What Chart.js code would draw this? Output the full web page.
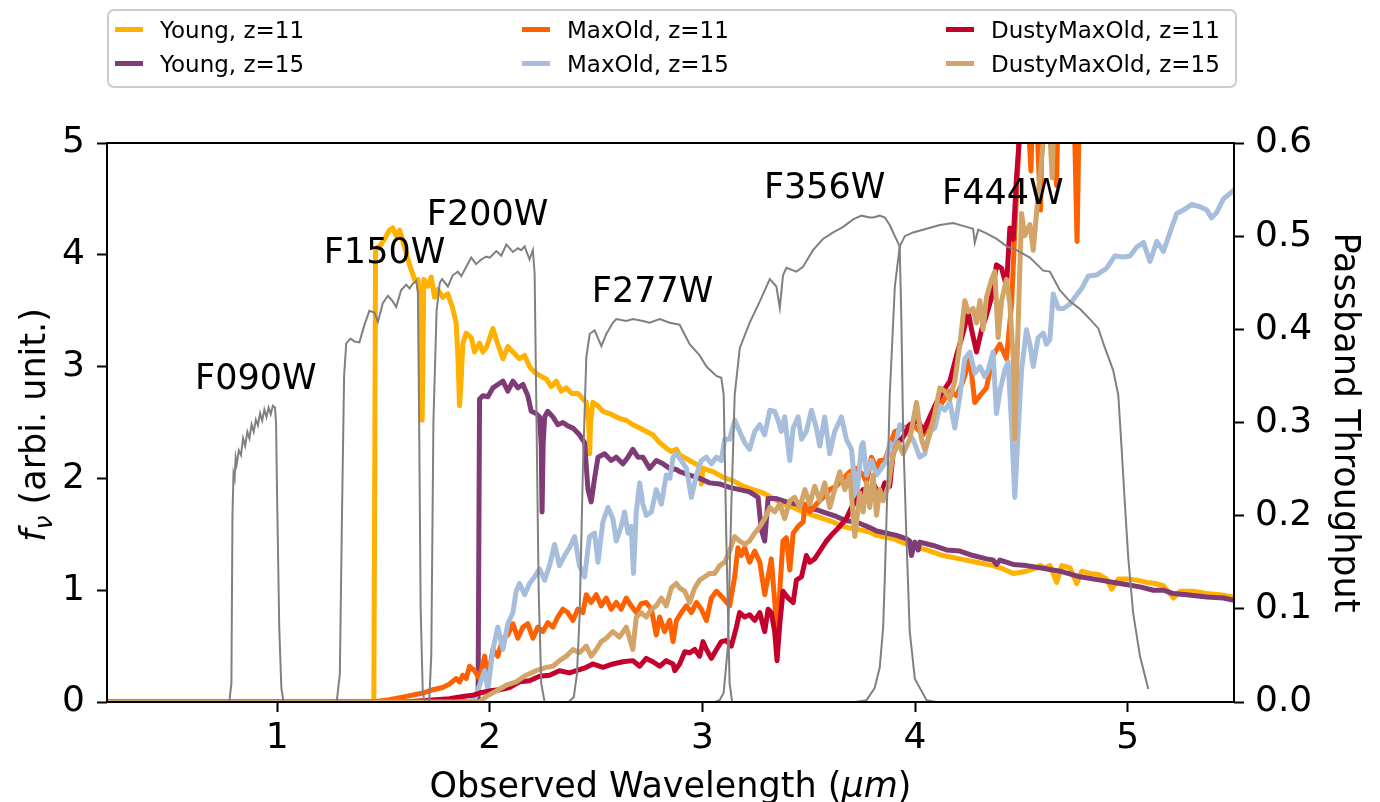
<!DOCTYPE html>
<html>
<head>
<meta charset="utf-8">
<script src="https://cdn.jsdelivr.net/npm/chart.js@4.4.1/dist/chart.umd.min.js"></script>
<style>
  html, body { margin: 0; padding: 0; background: #fff; }
  #sed { display: block; }
</style>
</head>
<body>
<canvas id="sed" width="1380" height="802"></canvas>
<script>
// ---- data: [wavelength (um), f_nu] ----
const youngZ11 = [[0.2,0],[1.455,0],[1.463,4.04],[1.473,4.07],[1.481,4.07],[1.505,4.14],[1.528,4.22],[1.544,4.24],[1.56,4.17],[1.576,4.22],[1.599,4.07],[1.623,3.91],[1.646,3.78],[1.662,3.78],[1.673,3.6],[1.682,2.52],[1.69,3.78],[1.709,3.72],[1.725,3.8],[1.74,3.62],[1.756,3.69],[1.779,3.62],[1.803,3.65],[1.826,3.52],[1.842,3.39],[1.85,3.1],[1.858,2.65],[1.866,2.9],[1.873,3.2],[1.889,3.3],[1.913,3.26],[1.928,3.13],[1.952,3.21],[1.968,3.13],[1.984,3.17],[2.015,3.34],[2.038,3.2],[2.062,3.07],[2.085,3.18],[2.109,3.13],[2.14,3.07],[2.164,3.1],[2.187,3.0],[2.211,2.95],[2.234,2.92],[2.266,2.89],[2.289,2.82],[2.313,2.87],[2.336,2.78],[2.36,2.81],[2.384,2.76],[2.415,2.76],[2.438,2.71],[2.454,2.68],[2.465,2.5],[2.47,2.22],[2.474,2.5],[2.485,2.68],[2.509,2.65],[2.532,2.6],[2.564,2.58],[2.595,2.55],[2.619,2.53],[2.642,2.52],[2.673,2.48],[2.705,2.45],[2.736,2.42],[2.767,2.39],[2.799,2.32],[2.831,2.27],[2.854,2.24],[2.878,2.26],[2.893,2.21],[2.94,2.16],[2.987,2.11],[2.995,1.95],[3.003,2.09],[3.05,2.06],[3.097,2.01],[3.144,1.98],[3.191,1.93],[3.238,1.9],[3.285,1.87],[3.333,1.82],[3.38,1.77],[3.427,1.74],[3.474,1.7],[3.521,1.67],[3.568,1.64],[3.615,1.61],[3.662,1.57],[3.709,1.55],[3.74,1.54],[3.787,1.52],[3.819,1.49],[3.897,1.46],[3.975,1.4],[4.054,1.36],[4.132,1.31],[4.211,1.28],[4.289,1.25],[4.367,1.22],[4.414,1.19],[4.462,1.15],[4.524,1.17],[4.571,1.2],[4.588,1.22],[4.611,1.2],[4.635,1.22],[4.666,1.07],[4.69,1.22],[4.729,1.2],[4.76,1.06],[4.784,1.17],[4.823,1.15],[4.862,1.14],[4.901,1.1],[4.925,1.01],[4.956,1.1],[4.996,1.1],[5.043,1.09],[5.09,1.07],[5.129,1.06],[5.168,1.04],[5.215,0.93],[5.246,0.99],[5.309,0.99],[5.372,0.97],[5.434,0.96],[5.5,0.94]];

const youngZ15 = [[0.2,0],[1.945,0],[1.952,2.71],[1.968,2.74],[1.991,2.73],[2.015,2.81],[2.038,2.84],[2.062,2.87],[2.085,2.78],[2.109,2.87],[2.132,2.81],[2.156,2.84],[2.179,2.74],[2.195,2.6],[2.218,2.58],[2.234,2.55],[2.242,2.3],[2.246,1.7],[2.251,2.3],[2.258,2.55],[2.273,2.6],[2.297,2.55],[2.32,2.48],[2.344,2.5],[2.367,2.47],[2.391,2.45],[2.422,2.39],[2.446,2.32],[2.462,1.9],[2.477,1.79],[2.493,2.0],[2.509,2.19],[2.54,2.22],[2.571,2.16],[2.595,2.19],[2.626,2.13],[2.65,2.19],[2.673,2.26],[2.697,2.19],[2.72,2.19],[2.752,2.09],[2.783,2.16],[2.815,2.13],[2.846,2.09],[2.877,2.08],[2.893,2.06],[2.94,2.03],[2.987,2.0],[3.034,1.96],[3.081,1.95],[3.128,1.92],[3.175,1.9],[3.222,1.88],[3.262,1.83],[3.277,1.54],[3.293,1.44],[3.309,1.82],[3.348,1.82],[3.395,1.79],[3.442,1.77],[3.489,1.74],[3.536,1.72],[3.583,1.69],[3.63,1.66],[3.677,1.62],[3.724,1.61],[3.787,1.56],[3.819,1.53],[3.866,1.51],[3.913,1.49],[3.96,1.46],[3.975,1.44],[3.983,1.31],[3.999,1.43],[4.015,1.36],[4.022,1.43],[4.085,1.4],[4.148,1.36],[4.211,1.35],[4.273,1.31],[4.336,1.28],[4.367,1.27],[4.383,1.23],[4.399,1.27],[4.462,1.23],[4.524,1.22],[4.587,1.2],[4.682,1.17],[4.776,1.12],[4.87,1.09],[4.964,1.06],[5.058,1.03],[5.121,1.0],[5.168,1.0],[5.215,0.97],[5.278,0.96],[5.372,0.94],[5.45,0.93],[5.5,0.91]];

const maxOldZ11 = [[0.2,0],[1.45,0],[1.528,0.02],[1.607,0.05],[1.686,0.08],[1.733,0.11],[1.779,0.13],[1.81,0.16],[1.842,0.21],[1.858,0.18],[1.873,0.24],[1.889,0.21],[1.905,0.32],[1.928,0.28],[1.952,0.21],[1.976,0.41],[1.991,0.21],[2.015,0.47],[2.038,0.41],[2.062,0.57],[2.085,0.6],[2.109,0.7],[2.132,0.57],[2.156,0.67],[2.179,0.7],[2.203,0.57],[2.226,0.67],[2.25,0.63],[2.273,0.71],[2.297,0.67],[2.32,0.76],[2.344,0.83],[2.367,0.8],[2.391,0.73],[2.414,0.83],[2.438,0.8],[2.454,0.96],[2.477,0.89],[2.501,0.96],[2.524,0.86],[2.548,0.93],[2.571,0.83],[2.595,0.89],[2.618,0.83],[2.642,0.93],[2.665,0.86],[2.689,0.8],[2.712,0.88],[2.736,0.89],[2.76,0.83],[2.783,0.6],[2.799,0.76],[2.822,0.63],[2.846,0.73],[2.862,0.54],[2.878,0.73],[2.901,0.8],[2.925,0.86],[2.948,0.8],[2.972,0.89],[2.995,0.83],[3.019,0.73],[3.042,0.93],[3.066,0.99],[3.097,0.93],[3.128,0.86],[3.152,1.12],[3.167,1.38],[3.183,1.31],[3.199,1.38],[3.222,1.25],[3.246,1.35],[3.27,1.25],[3.293,0.96],[3.309,1.12],[3.324,1.28],[3.34,0.9],[3.356,0.6],[3.364,1.0],[3.379,1.44],[3.395,1.47],[3.411,1.18],[3.427,1.51],[3.45,1.57],[3.474,1.61],[3.482,1.77],[3.505,1.7],[3.536,1.77],[3.568,1.83],[3.599,1.9],[3.63,1.93],[3.662,2.0],[3.693,2.06],[3.724,2.09],[3.756,2.03],[3.772,1.96],[3.795,2.19],[3.819,2.09],[3.834,2.16],[3.858,2.16],[3.881,2.29],[3.905,2.42],[3.944,2.45],[3.991,2.48],[4.038,2.39],[4.069,2.48],[4.117,2.65],[4.164,2.78],[4.195,2.74],[4.226,2.87],[4.258,3.07],[4.281,2.68],[4.305,2.74],[4.336,2.81],[4.367,3.1],[4.399,3.2],[4.43,3.07],[4.454,3.56],[4.469,4.2],[4.485,4.85],[4.5,5.6],[4.53,5.3],[4.545,4.75],[4.56,5.8],[4.59,4.4],[4.605,5.8],[4.64,5.5],[4.665,4.62],[4.68,5.9],[4.74,6.0],[4.762,4.12],[4.78,6.2],[5.0,6.5],[5.5,7.0]];

const maxOldZ15 = [[0.2,0],[1.9,0],[1.93,0.03],[1.952,0.15],[1.976,0.28],[1.991,0.11],[2.015,0.47],[2.038,0.67],[2.062,0.47],[2.085,0.7],[2.109,0.8],[2.124,0.99],[2.14,1.06],[2.164,0.96],[2.187,1.06],[2.211,1.12],[2.234,1.19],[2.258,1.09],[2.281,1.22],[2.305,1.41],[2.328,1.22],[2.352,1.31],[2.375,1.38],[2.399,1.48],[2.422,1.22],[2.446,1.12],[2.469,1.48],[2.493,1.51],[2.509,1.25],[2.532,1.61],[2.556,1.74],[2.579,1.64],[2.595,1.44],[2.618,1.57],[2.634,1.7],[2.65,1.51],[2.665,1.57],[2.676,1.15],[2.689,1.7],[2.705,1.96],[2.72,1.77],[2.736,1.67],[2.76,1.7],[2.783,1.9],[2.807,1.77],[2.83,2.03],[2.847,2.0],[2.862,2.19],[2.878,2.22],[2.901,2.16],[2.925,2.09],[2.948,1.83],[2.972,2.03],[2.995,2.16],[3.019,2.19],[3.042,2.13],[3.066,2.19],[3.089,2.16],[3.105,2.35],[3.128,2.35],[3.152,2.52],[3.175,2.42],[3.199,2.32],[3.222,2.26],[3.246,2.42],[3.27,2.48],[3.293,2.39],[3.317,2.61],[3.34,2.6],[3.356,2.52],[3.371,2.42],[3.387,2.55],[3.411,2.16],[3.427,2.45],[3.45,2.55],[3.466,2.35],[3.489,2.42],[3.513,2.61],[3.536,2.45],[3.552,2.29],[3.575,2.55],[3.599,2.22],[3.622,2.42],[3.654,2.55],[3.677,2.35],[3.701,2.26],[3.724,1.8],[3.748,2.29],[3.756,2.32],[3.772,2.03],[3.795,2.16],[3.819,2.03],[3.842,2.09],[3.866,2.16],[3.881,2.32],[3.905,2.26],[3.928,2.48],[3.96,2.42],[3.991,2.35],[4.022,2.19],[4.046,2.22],[4.069,2.42],[4.093,2.45],[4.117,2.65],[4.14,2.61],[4.164,2.68],[4.187,2.45],[4.211,2.74],[4.234,3.07],[4.258,3.13],[4.281,2.94],[4.305,3.0],[4.328,2.91],[4.344,2.97],[4.367,3.13],[4.383,2.58],[4.399,2.78],[4.422,2.97],[4.438,3.04],[4.454,2.48],[4.469,1.83],[4.485,2.42],[4.501,2.97],[4.524,3.33],[4.54,3.2],[4.556,3.0],[4.579,3.26],[4.603,3.3],[4.618,3.2],[4.634,3.24],[4.65,3.65],[4.674,3.52],[4.698,3.52],[4.729,3.56],[4.752,3.62],[4.784,3.7],[4.815,3.81],[4.854,3.82],[4.901,3.88],[4.94,3.99],[4.98,3.98],[5.011,3.99],[5.043,4.07],[5.074,4.11],[5.105,3.94],[5.137,4.12],[5.168,4.03],[5.199,4.2],[5.231,4.37],[5.262,4.4],[5.301,4.45],[5.34,4.43],[5.372,4.4],[5.395,4.33],[5.419,4.38],[5.45,4.5],[5.489,4.56],[5.505,4.59]];

const dustyZ11 = [[0.2,0],[1.6,0],[1.81,0.03],[1.873,0.05],[1.92,0.06],[1.952,0.08],[2.0,0.1],[2.046,0.11],[2.093,0.13],[2.14,0.18],[2.187,0.19],[2.234,0.23],[2.281,0.24],[2.328,0.28],[2.375,0.26],[2.422,0.29],[2.454,0.31],[2.485,0.34],[2.532,0.31],[2.579,0.34],[2.626,0.36],[2.673,0.37],[2.705,0.32],[2.736,0.39],[2.767,0.36],[2.799,0.32],[2.83,0.37],[2.862,0.34],[2.87,0.28],[2.893,0.34],[2.917,0.45],[2.94,0.44],[2.964,0.47],[2.987,0.41],[3.003,0.54],[3.019,0.47],[3.042,0.39],[3.066,0.47],[3.089,0.54],[3.113,0.55],[3.136,0.5],[3.16,0.67],[3.175,0.8],[3.199,0.76],[3.222,0.78],[3.246,0.73],[3.27,0.8],[3.293,0.63],[3.309,0.83],[3.324,0.8],[3.34,0.63],[3.351,0.37],[3.364,0.7],[3.379,0.99],[3.403,0.93],[3.427,0.89],[3.442,1.09],[3.466,1.12],[3.489,1.31],[3.505,1.25],[3.528,1.28],[3.552,1.35],[3.583,1.44],[3.615,1.51],[3.646,1.57],[3.677,1.64],[3.701,1.74],[3.724,1.8],[3.756,1.9],[3.787,1.85],[3.811,1.93],[3.834,1.83],[3.858,1.96],[3.881,1.93],[3.897,2.22],[3.921,2.32],[3.944,2.37],[3.975,2.48],[4.015,2.52],[4.038,2.42],[4.069,2.55],[4.101,2.68],[4.132,2.78],[4.164,2.87],[4.195,3.1],[4.226,3.3],[4.25,3.49],[4.266,3.33],[4.289,3.13],[4.313,3.33],[4.336,3.46],[4.36,3.62],[4.383,3.91],[4.407,3.88],[4.43,3.72],[4.446,4.24],[4.462,4.14],[4.477,4.69],[4.493,5.1],[4.52,5.8],[5.0,6.5],[5.5,7.0]];

const dustyZ15 = [[0.2,0],[1.9,0],[1.952,0],[1.984,0.05],[2.031,0.1],[2.078,0.15],[2.124,0.18],[2.171,0.24],[2.218,0.28],[2.266,0.31],[2.297,0.32],[2.328,0.37],[2.36,0.41],[2.391,0.47],[2.422,0.44],[2.454,0.5],[2.477,0.41],[2.501,0.47],[2.524,0.54],[2.548,0.57],[2.579,0.63],[2.61,0.58],[2.642,0.67],[2.673,0.47],[2.689,0.76],[2.712,0.8],[2.736,0.76],[2.76,0.83],[2.783,0.86],[2.807,0.93],[2.83,0.86],[2.854,1.02],[2.877,1.06],[2.893,1.02],[2.917,0.99],[2.94,0.89],[2.964,1.02],[2.987,1.09],[3.011,1.12],[3.034,1.15],[3.058,1.15],[3.081,1.22],[3.105,1.25],[3.128,1.35],[3.152,1.48],[3.175,1.44],[3.199,1.41],[3.222,1.44],[3.246,1.51],[3.27,1.57],[3.293,1.64],[3.317,1.74],[3.34,1.7],[3.364,1.77],[3.387,1.64],[3.411,1.8],[3.434,1.83],[3.458,1.74],[3.482,1.9],[3.505,1.77],[3.528,1.93],[3.552,1.8],[3.575,1.96],[3.599,1.74],[3.622,1.9],[3.646,2.06],[3.67,1.9],[3.693,2.03],[3.717,1.48],[3.74,1.87],[3.756,1.7],[3.772,1.96],[3.787,1.74],[3.803,2.03],[3.819,1.67],[3.834,1.9],[3.85,1.8],[3.874,1.93],[3.897,2.22],[3.921,2.32],[3.944,2.22],[3.975,2.35],[4.007,2.68],[4.03,2.35],[4.046,2.26],[4.069,2.39],[4.093,2.58],[4.117,2.81],[4.14,2.78],[4.164,2.71],[4.187,2.87],[4.211,3.2],[4.234,3.59],[4.25,3.49],[4.273,3.52],[4.289,3.39],[4.305,3.59],[4.32,3.33],[4.336,3.62],[4.36,3.78],[4.375,3.85],[4.391,3.26],[4.407,3.59],[4.43,3.78],[4.446,3.56],[4.462,3.07],[4.469,2.35],[4.485,3.39],[4.501,4.37],[4.516,4.17],[4.54,4.27],[4.556,4.04],[4.571,4.37],[4.587,4.69],[4.603,5.02],[4.62,5.6],[4.645,4.69],[4.66,5.7],[4.75,6.0],[5.5,7.0]];

// NIRCam passbands: [wavelength (um), throughput]
const f090w = [[0.775,0],[0.785,0.02],[0.79,0.2],[0.795,0.245],[0.8,0.24],[0.805,0.262],[0.81,0.255],[0.82,0.27],[0.83,0.265],[0.84,0.283],[0.85,0.275],[0.86,0.29],[0.87,0.283],[0.88,0.298],[0.89,0.29],[0.9,0.303],[0.91,0.297],[0.92,0.31],[0.93,0.302],[0.94,0.314],[0.95,0.306],[0.96,0.316],[0.97,0.309],[0.98,0.318],[0.99,0.316],[0.995,0.3],[1.0,0.22],[1.01,0.08],[1.02,0.015],[1.03,0]];
const f150w = [[1.28,0],[1.295,0.03],[1.305,0.2],[1.315,0.35],[1.325,0.385],[1.345,0.39],[1.364,0.387],[1.387,0.386],[1.411,0.405],[1.434,0.42],[1.458,0.418],[1.474,0.408],[1.497,0.428],[1.521,0.436],[1.544,0.43],[1.56,0.424],[1.583,0.442],[1.607,0.448],[1.623,0.444],[1.638,0.449],[1.654,0.452],[1.662,0.44],[1.668,0.3],[1.675,0.1],[1.685,0.01],[1.695,0]];
const f200w = [[1.715,0],[1.725,0.05],[1.735,0.3],[1.75,0.42],[1.765,0.45],[1.776,0.454],[1.803,0.446],[1.826,0.458],[1.85,0.462],[1.866,0.457],[1.889,0.467],[1.913,0.477],[1.936,0.47],[1.96,0.475],[1.984,0.478],[2.0,0.477],[2.031,0.484],[2.054,0.479],[2.078,0.491],[2.109,0.483],[2.132,0.487],[2.148,0.485],[2.164,0.489],[2.187,0.475],[2.203,0.485],[2.211,0.46],[2.22,0.3],[2.23,0.12],[2.242,0.02],[2.258,0]];
const f277w = [[2.37,0],[2.395,0.005],[2.41,0.03],[2.423,0.095],[2.438,0.25],[2.454,0.37],[2.47,0.395],[2.493,0.399],[2.525,0.382],[2.548,0.395],[2.579,0.407],[2.595,0.411],[2.642,0.409],[2.673,0.411],[2.72,0.409],[2.752,0.407],[2.799,0.411],[2.846,0.407],[2.893,0.405],[2.94,0.384],[2.987,0.372],[3.019,0.36],[3.066,0.35],[3.089,0.348],[3.1,0.33],[3.113,0.17],[3.128,0.02],[3.14,0]];
const f356w = [[3.06,0],[3.081,0.002],[3.1,0.01],[3.12,0.06],[3.136,0.21],[3.152,0.33],[3.176,0.38],[3.222,0.407],[3.27,0.43],[3.317,0.454],[3.348,0.446],[3.364,0.423],[3.379,0.458],[3.395,0.466],[3.442,0.462],[3.473,0.467],[3.52,0.485],[3.567,0.497],[3.615,0.504],[3.662,0.51],[3.709,0.518],[3.748,0.522],[3.787,0.52],[3.803,0.52],[3.834,0.522],[3.858,0.52],[3.881,0.512],[3.905,0.5],[3.928,0.489],[3.936,0.407],[3.944,0.29],[3.96,0.173],[3.975,0.076],[3.999,0.025],[4.054,0.002],[4.1,0]];
const f444w = [[3.72,0],[3.772,0.002],[3.81,0.015],[3.834,0.037],[3.85,0.08],[3.858,0.134],[3.87,0.23],[3.881,0.329],[3.905,0.446],[3.928,0.489],[3.952,0.5],[3.991,0.504],[4.054,0.508],[4.117,0.512],[4.179,0.514],[4.242,0.51],[4.273,0.508],[4.281,0.493],[4.297,0.507],[4.336,0.503],[4.384,0.497],[4.431,0.489],[4.478,0.485],[4.54,0.477],[4.603,0.463],[4.634,0.462],[4.681,0.442],[4.728,0.43],[4.775,0.422],[4.822,0.411],[4.862,0.401],[4.893,0.38],[4.932,0.356],[4.956,0.329],[4.972,0.27],[4.987,0.212],[5.003,0.154],[5.026,0.095],[5.058,0.049],[5.097,0.014]];

const sedLabels = ['Young, z=11', 'Young, z=15', 'MaxOld, z=11', 'MaxOld, z=15', 'DustyMaxOld, z=11', 'DustyMaxOld, z=15'];
const sedColors = ['#FFB000', '#7E3B76', '#FE6100', '#A6BEDB', '#C4002C', '#D3A467'];
const sedData = [youngZ11, youngZ15, maxOldZ11, maxOldZ15, dustyZ11, dustyZ15];

const filterNames = ['F090W', 'F150W', 'F200W', 'F277W', 'F356W', 'F444W'];
const filterCurves = [f090w, f150w, f200w, f277w, f356w, f444w];
// where each filter name sits (wavelength, f_nu of the text baseline)
const filterLabelWl = [0.90, 1.505, 1.99, 2.766, 3.575, 4.413];
const filterLabelF = [2.80, 3.93, 4.27, 3.58, 4.51, 4.45];

const xTicks = [1, 2, 3, 4, 5];
const yTicks = [0, 1, 2, 3, 4, 5];
const y2Ticks = [0, 0.1, 0.2, 0.3, 0.4, 0.5, 0.6];

const FONT = '"DejaVu Sans"';
Chart.defaults.font.family = "'DejaVu Sans', sans-serif";
Chart.defaults.color = '#000';

const toXY = arr => arr.map(([x, y]) => ({ x, y }));

const datasets = sedData.map((d, i) => ({
    label: sedLabels[i],
    data: toXY(d),
    borderColor: sedColors[i],
    backgroundColor: sedColors[i],
    borderWidth: 5,
    borderJoinStyle: 'round',
    showLine: true,
    pointRadius: 0,
    yAxisID: 'y',
    order: 10 - i,
    clip: 0
}));
filterCurves.forEach((d, i) => {
    datasets.push({
        label: filterNames[i],
        data: toXY(d),
        borderColor: '#808080',
        borderWidth: 2,
        showLine: true,
        pointRadius: 0,
        yAxisID: 'y2',
        order: 0,
        clip: 0
    });
});

// draws text pieces with different fonts one after another, centred on (0,0)
function richText(ctx, parts) {
    let w = 0;
    parts.forEach(p => { ctx.font = p.font; p.w = ctx.measureText(p.t).width; w += p.w; });
    let x = -w / 2;
    parts.forEach(p => {
        ctx.font = p.font;
        ctx.fillText(p.t, x, p.dy || 0);
        x += p.w;
    });
}

const decorations = {
    id: 'decorations',
    afterDatasetsDraw(chart) {
        const { ctx, scales } = chart;
        ctx.save();
        ctx.font = '35px ' + FONT;
        ctx.fillStyle = '#000';
        ctx.textAlign = 'center';
        ctx.textBaseline = 'alphabetic';
        filterNames.forEach((n, i) => {
            ctx.fillText(n, scales.x.getPixelForValue(filterLabelWl[i]), scales.y.getPixelForValue(filterLabelF[i]));
        });
        ctx.restore();
    },
    afterDraw(chart) {
        const { ctx, chartArea: a } = chart;
        ctx.save();
        // axes frame
        ctx.strokeStyle = '#000';
        ctx.lineWidth = 2;
        ctx.strokeRect(a.left, a.top, a.right - a.left, a.bottom - a.top);

        // axis titles
        ctx.fillStyle = '#000';
        ctx.textAlign = 'left';
        ctx.textBaseline = 'alphabetic';
        ctx.save();
        ctx.translate((a.left + a.right) / 2, 797);
        richText(ctx, [
            { t: 'Observed Wavelength (', font: '35px ' + FONT },
            { t: 'μm', font: 'italic 35px ' + FONT },
            { t: ')', font: '35px ' + FONT }
        ]);
        ctx.restore();

        ctx.save();
        ctx.translate(45, 425);
        ctx.rotate(-Math.PI / 2);
        richText(ctx, [
            { t: 'f', font: 'italic 35px ' + FONT },
            { t: 'ν', font: 'italic 25px ' + FONT, dy: 7 },
            { t: ' (arbi. unit.)', font: '35px ' + FONT }
        ]);
        ctx.restore();

        ctx.save();
        ctx.translate(1335, (a.top + a.bottom) / 2);
        ctx.rotate(Math.PI / 2);
        richText(ctx, [{ t: 'Passband Throughput', font: '35px ' + FONT }]);
        ctx.restore();

        // legend, three columns of two
        ctx.fillStyle = 'rgba(255,255,255,0.8)';
        ctx.strokeStyle = '#cccccc';
        ctx.lineWidth = 2;
        ctx.beginPath();
        ctx.roundRect(108, 10, 1128, 77, 6);
        ctx.fill();
        ctx.stroke();
        const colX = [115, 522, 946];
        const rowY = [29.5, 63.5];
        ctx.font = '23px ' + FONT;
        sedLabels.forEach((lab, i) => {
            const x0 = colX[Math.floor(i / 2)];
            const y0 = rowY[i % 2];
            ctx.strokeStyle = sedColors[i];
            ctx.lineWidth = 5;
            ctx.beginPath();
            ctx.moveTo(x0, y0);
            ctx.lineTo(x0 + 28, y0);
            ctx.stroke();
            ctx.fillStyle = '#000';
            ctx.fillText(lab, x0 + 45, y0 + 8.4);
        });
        ctx.restore();
    }
};

const tickGrid = { drawOnChartArea: false, drawTicks: true, tickLength: 10, tickWidth: 2, tickColor: '#000' };

new Chart(document.getElementById('sed'), {
    type: 'scatter',
    data: { datasets },
    options: {
        responsive: false,
        animation: false,
        devicePixelRatio: 1,
        layout: { padding: { top: 143, left: 0, right: 0, bottom: 0 } },
        plugins: { legend: { display: false }, tooltip: { enabled: false } },
        elements: { point: { radius: 0 }, line: { tension: 0 } },
        scales: {
            x: {
                type: 'linear', min: 0.2, max: 5.5,
                afterBuildTicks: s => { s.ticks = xTicks.map(v => ({ value: v })); },
                afterFit: s => { s.height = 100; },
                ticks: { font: { size: 36 }, color: '#000', padding: 5, maxRotation: 0, callback: v => String(v) },
                grid: tickGrid,
                border: { display: false }
            },
            y: {
                type: 'linear', position: 'left', min: 0, max: 5,
                afterBuildTicks: s => { s.ticks = yTicks.map(v => ({ value: v })); },
                afterFit: s => { s.width = 107; },
                ticks: { font: { size: 36 }, color: '#000', padding: 12, callback: v => String(v) },
                grid: tickGrid,
                border: { display: false }
            },
            y2: {
                type: 'linear', position: 'right', min: 0, max: 0.6,
                afterBuildTicks: s => { s.ticks = y2Ticks.map(v => ({ value: v })); },
                afterFit: s => { s.width = 146; },
                ticks: { font: { size: 36 }, color: '#000', padding: 11, callback: v => v.toFixed(1) },
                grid: tickGrid,
                border: { display: false }
            }
        }
    },
    plugins: [decorations]
});
</script>
</body>
</html>
